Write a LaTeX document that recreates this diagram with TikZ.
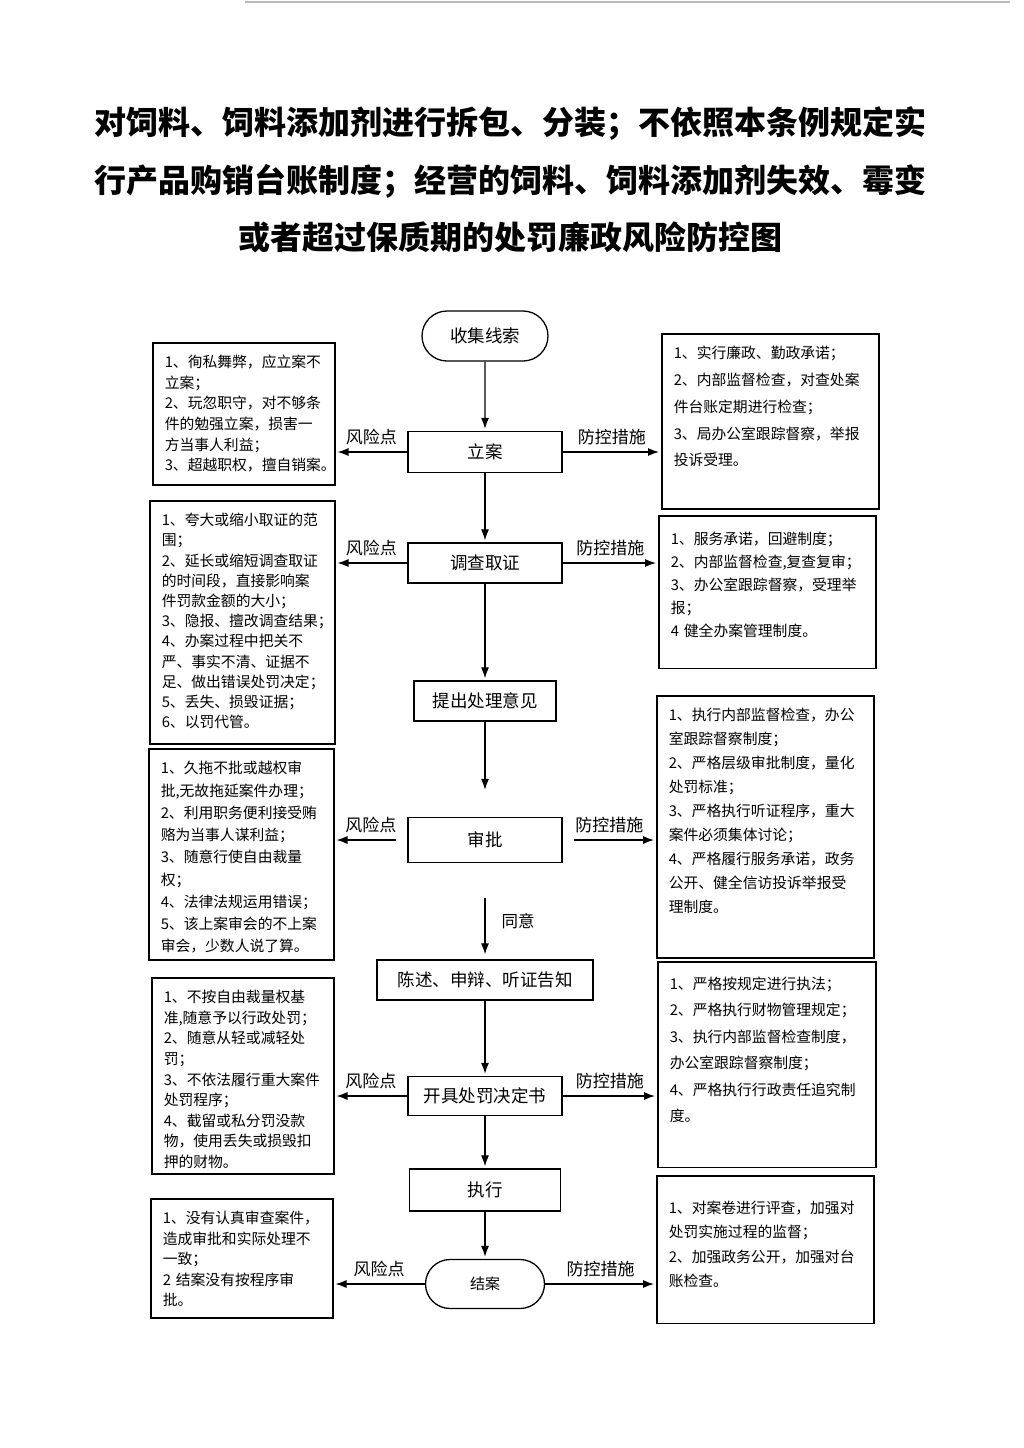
\documentclass[tikz,border=0pt]{standalone}
\usepackage{fontspec}
\setmainfont{Noto Sans CJK SC}
\usetikzlibrary{arrows.meta,shapes.misc}

\tikzset{
  flowbox/.style={draw,line width=1.3pt,minimum height=40pt,inner sep=2pt,
    font=\fontsize{17.5}{20}\selectfont},
  endbox/.style={rounded rectangle,draw,line width=1.3pt,inner sep=2pt},
  riskbox/.style={draw,line width=1.5pt,anchor=north west,align=left,
    inner xsep=12pt,inner ysep=6pt,text height=19pt},
  tag/.style={font=\fontsize{17}{20}\selectfont,inner sep=2pt},
  flow/.style={-{Latex[length=11pt,width=8pt]},line width=1.2pt,shorten >=2pt},
}

\begin{document}
\begin{tikzpicture}[x=1pt,y=-1pt]
\useasboundingbox (0,0) rectangle (1024,1448);
\draw[gray!55,line width=1.5pt] (245,2) -- (1010,2);

\node[font=\fontsize{32}{57.5}\selectfont\bfseries,align=center] (title) at (510,180)
  {对饲料、饲料添加剂进行拆包、分装；不依照本条例规定实\\
   行产品购销台账制度；经营的饲料、饲料添加剂失效、霉变\\
   或者超过保质期的处罚廉政风险防控图};

% main column
\node[endbox,minimum width=130pt,minimum height=50pt,font=\fontsize{17.5}{20}\selectfont] (shouji) at (485,336) {收集线索};
\node[flowbox,minimum width=154pt,minimum height=41pt] (lian) at (485,452) {立案};
\node[flowbox,minimum width=154pt] (diaocha) at (485,563) {调查取证};
\node[flowbox,minimum width=142pt] (tichu) at (485,701) {提出处理意见};
\node[flowbox,minimum width=154pt,minimum height=45pt] (shenpi) at (485,840) {审批};
\node[flowbox,minimum width=216pt] (chenshu) at (485,980) {陈述、申辩、听证告知};
\node[flowbox,minimum width=154pt,minimum height=39pt] (kaiju) at (485,1096) {开具处罚决定书};
\node[flowbox,minimum width=151pt,minimum height=42pt] (zhixing) at (485,1190) {执行};
\node[endbox,minimum width=123pt,minimum height=49pt,font=\fontsize{15}{18}\selectfont] (jiean) at (485,1284) {结案};

% risk points
\node[riskbox,text width=158pt,text depth=111pt,font=\fontsize{14.8}{20.6}\selectfont] (fx1) at (152,342)
  {1、徇私舞弊，应立案不\\立案；\\2、玩忽职守，对不够条\\件的勉强立案，损害一\\方当事人利益；\\3、超越职权，擅自销案。};
\node[riskbox,text width=161pt,text depth=212pt,font=\fontsize{14.8}{20.2}\selectfont] (fx2) at (149,500)
  {1、夸大或缩小取证的范\\围；\\2、延长或缩短调查取证\\的时间段，直接影响案\\件罚款金额的大小；\\3、隐报、擅改调查结果；\\4、办案过程中把关不\\严、事实不清、证据不\\足、做出错误处罚决定；\\5、丢失、损毁证据；\\6、以罚代管。};
\node[riskbox,text width=161pt,text depth=180pt,font=\fontsize{14.8}{22.25}\selectfont] (fx3) at (148,748)
  {1、久拖不批或越权审\\批,无故拖延案件办理；\\2、利用职务便利接受贿\\赂为当事人谋利益；\\3、随意行使自由裁量\\权；\\4、法律法规运用错误；\\5、该上案审会的不上案\\审会，少数人说了算。};
\node[riskbox,text width=158pt,text depth=165pt,font=\fontsize{14.8}{20.6}\selectfont] (fx4) at (151,977)
  {1、不按自由裁量权基\\准,随意予以行政处罚；\\2、随意从轻或减轻处\\罚；\\3、不依法履行重大案件\\处罚程序；\\4、截留或私分罚没款\\物，使用丢失或损毁扣\\押的财物。};
\node[riskbox,text width=158pt,text depth=88pt,font=\fontsize{14.8}{20.5}\selectfont] (fx5) at (150,1198)
  {1、没有认真审查案件，\\造成审批和实际处理不\\一致；\\2 结案没有按程序审\\批。};

% control measures
\node[riskbox,text width=193pt,text depth=144pt,font=\fontsize{14.8}{26.75}\selectfont] (fk1) at (661,333)
  {1、实行廉政、勤政承诺；\\2、内部监督检查，对查处案\\件台账定期进行检查；\\3、局办公室跟踪督察，举报\\投诉受理。};
\node[riskbox,text width=193pt,text height=22.7pt,text depth=118pt,font=\fontsize{14.8}{23}\selectfont] (fk2) at (658,515)
  {1、服务承诺，回避制度；\\2、内部监督检查,复查复审；\\3、办公室跟踪督察，受理举\\报；\\4 健全办案管理制度。};
\node[riskbox,text width=193pt,text depth=231pt,font=\fontsize{14.8}{24}\selectfont] (fk3) at (656,695)
  {1、执行内部监督检查，办公\\室跟踪督察制度；\\2、严格层级审批制度，量化\\处罚标准；\\3、严格执行听证程序，重大\\案件必须集体讨论；\\4、严格履行服务承诺，政务\\公开、健全信访投诉举报受\\理制度。};
\node[riskbox,text width=194pt,text height=21.7pt,text depth=172pt,font=\fontsize{14.8}{26.4}\selectfont] (fk4) at (657,961)
  {1、严格按规定进行执法；\\2、严格执行财物管理规定；\\3、执行内部监督检查制度，\\办公室跟踪督察制度；\\4、严格执行行政责任追究制\\度。};
\node[riskbox,text width=193pt,text height=31.7pt,text depth=104pt,font=\fontsize{14.8}{24.3}\selectfont] (fk5) at (656,1175)
  {1、对案卷进行评查，加强对\\处罚实施过程的监督；\\2、加强政务公开，加强对台\\账检查。};

% flow
\draw[flow] (shouji) -- (lian);
\draw[flow] (lian) -- (diaocha);
\draw[flow] (diaocha) -- (tichu);
\draw[flow,shorten >=27pt] (tichu) -- (shenpi);
\draw[flow,shorten <=35pt,shorten >=5pt] (shenpi) -- node[tag,right=14pt,pos=0.6,font=\fontsize{16.5}{20}\selectfont]{同意} (chenshu);
\draw[flow] (chenshu) -- (kaiju);
\draw[flow] (kaiju) -- (zhixing);
\draw[flow] (zhixing) -- (jiean);

% sideways
\draw[flow] (lian.west) -- node[tag,above=5pt]{风险点} (lian.west -| fx1.east);
\draw[flow] (diaocha.west) -- node[tag,above=5pt]{风险点} (diaocha.west -| fx2.east);
\draw[flow,shorten <=11pt] (shenpi.west) -- node[tag,above=5pt]{风险点} (shenpi.west -| fx3.east);
\draw[flow] (kaiju.west) -- node[tag,above=5pt]{风险点} (kaiju.west -| fx4.east);
\draw[flow] (jiean.west) -- node[tag,above=5pt]{风险点} (jiean.west -| fx5.east);

\draw[flow] (lian.east) -- node[tag,above=5pt]{防控措施} (lian.east -| fk1.west);
\draw[flow] (diaocha.east) -- node[tag,above=5pt]{防控措施} (diaocha.east -| fk2.west);
\draw[flow,shorten <=11pt] (shenpi.east) -- node[tag,above=5pt]{防控措施} (shenpi.east -| fk3.west);
\draw[flow] (kaiju.east) -- node[tag,above=5pt]{防控措施} (kaiju.east -| fk4.west);
\draw[flow] (jiean.east) -- node[tag,above=5pt]{防控措施} (jiean.east -| fk5.west);
\end{tikzpicture}
\end{document}
